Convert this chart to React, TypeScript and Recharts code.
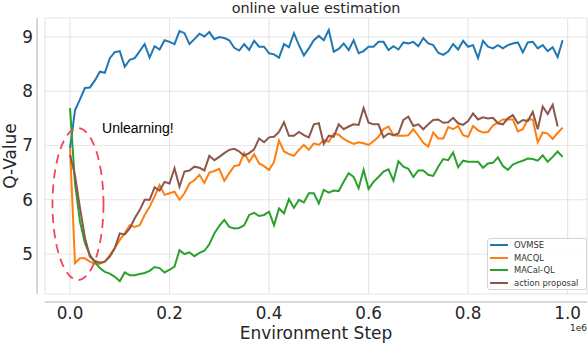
import React from 'react';
import {
  LineChart,
  Line,
  XAxis,
  YAxis,
  CartesianGrid,
  Legend,
  ReferenceLine,
  ReferenceDot,
} from 'recharts';

// one point every 10k environment steps
const xTicks = [0, 200000, 400000, 600000, 800000, 1000000];
const yTicks = [5, 6, 7, 8, 9];
const seriesNames = ['OVMSE', 'MACQL', 'MACal-QL', 'action proposal'];

const ovmse = [
  6.95, 7.65, 7.85, 8.06, 8.07, 8.2, 8.36, 8.34, 8.61, 8.72,
  8.74, 8.45, 8.58, 8.61, 8.74, 8.87, 8.62, 8.83, 8.77, 8.94,
  8.91, 8.87, 9.11, 9.07, 8.87, 8.96, 9.06, 9.01, 9.09, 8.96,
  9.0, 8.98, 8.94, 8.8, 8.75, 8.87, 8.76, 8.93, 8.82, 8.82,
  8.7, 8.68, 8.62, 8.87, 8.81, 9.07, 8.85, 8.66, 8.79, 8.94,
  9.02, 8.94, 9.13, 8.73, 8.78, 8.88, 8.76, 8.94, 8.7, 8.74,
  8.82, 8.82, 8.91, 8.91, 8.76, 8.83, 8.77, 8.9, 8.88, 8.91,
  8.83, 8.98, 8.88, 8.85, 8.71, 8.67, 8.73, 8.87, 8.77, 8.93,
  8.82, 8.85, 8.61, 8.93, 8.82, 8.79, 8.85, 8.79, 8.85, 8.88,
  8.9, 8.72, 8.9, 8.91, 8.79, 8.85, 8.74, 8.81, 8.63, 8.94,
];

const macql = [
  6.95, 4.83, 4.92, 4.92, 4.86, 4.82, 4.82, 4.86, 4.98, 5.11,
  5.26, 5.38, 5.53, 5.5, 5.53, 5.72, 5.87, 6.06, 6.27, 6.09,
  6.12, 6.15, 6.0, 6.12, 6.3, 6.36, 6.46, 6.31, 6.5, 6.53,
  6.57, 6.35, 6.49, 6.62, 6.64, 6.86, 6.7, 6.84, 6.67, 6.62,
  6.55, 6.7, 7.09, 6.89, 6.84, 6.81, 6.92, 7.01, 6.92, 7.04,
  7.01, 7.1, 7.07, 7.22, 7.2, 7.12, 7.07, 7.03, 7.06, 7.04,
  7.01, 7.08, 7.16, 7.3, 7.35, 7.19, 7.18, 7.18, 7.19, 7.3,
  7.18, 7.05, 6.98, 7.24, 7.13, 7.13, 7.34, 7.3, 7.36, 7.19,
  7.16, 7.36, 7.28, 7.24, 7.25, 7.37, 7.42, 7.48, 7.48, 7.48,
  7.26, 7.3, 7.48, 7.48, 7.06, 7.24, 7.22, 7.12, 7.23, 7.33,
];

const macalQl = [
  7.69, 6.3, 5.6, 5.2, 4.98, 4.85, 4.74, 4.67, 4.64, 4.58,
  4.5, 4.66, 4.61, 4.61, 4.63, 4.65, 4.69, 4.76, 4.74, 4.66,
  4.71, 4.77, 5.07, 5.0, 5.03, 4.96, 5.02, 5.06, 5.18, 5.38,
  5.52, 5.63, 5.5, 5.47, 5.48, 5.53, 5.72, 5.76, 5.7, 5.72,
  5.78, 5.53, 5.84, 5.75, 6.01, 5.85, 6.0, 5.95, 6.12, 6.12,
  5.93, 6.18, 6.13, 6.17, 6.16, 6.33, 6.49, 6.42, 6.21, 6.55,
  6.2, 6.33, 6.42, 6.52, 6.56, 6.35, 6.71, 6.61, 6.57, 6.42,
  6.54, 6.54, 6.46, 6.44, 6.61, 6.75, 6.73, 6.87, 6.6, 6.72,
  6.7, 6.7, 6.7, 6.59, 6.67, 6.68, 6.78, 6.62, 6.55, 6.65,
  6.69, 6.72, 6.76, 6.75, 6.72, 6.82, 6.7, 6.79, 6.89, 6.79,
];

const actionProposal = [
  6.83, 6.45, 5.85, 5.3, 4.95, 4.87, 4.84, 4.86, 4.95, 5.11,
  5.38, 5.36, 5.47, 5.66, 5.81, 6.0, 6.0, 6.23, 6.17, 6.33,
  6.3, 6.58, 6.24, 6.52, 6.54, 6.61, 6.59, 6.54, 6.81, 6.73,
  6.79, 6.86, 6.92, 6.94, 6.89, 6.81, 6.86, 6.93, 7.13, 7.06,
  7.15, 7.16, 7.25, 7.43, 7.18, 7.18, 7.25, 7.19, 7.15, 7.39,
  7.41, 7.03, 7.18, 7.16, 7.39, 7.3, 7.35, 7.39, 7.38, 7.69,
  7.42, 7.39, 7.39, 7.15, 7.22, 7.19, 7.22, 7.47, 7.53, 7.36,
  7.39, 7.3, 7.39, 7.47, 7.48, 7.42, 7.43, 7.51, 7.41, 7.38,
  7.45, 7.59, 7.48, 7.52, 7.5, 7.51, 7.41, 7.39, 7.5, 7.56,
  7.41, 7.47, 7.45, 7.62, 7.3, 7.72, 7.58, 7.75, 7.35,
];

const data = ovmse.map((v, i) => ({
  step: i * 10000,
  ovmse: v,
  macql: macql[i],
  macalql: macalQl[i],
  proposal: actionProposal[i] ?? null,
}));

const FONT = 'DejaVu Sans';
const TEXT = '#262626';
const SPINE = '#cccccc';

const X_DOMAIN = [-50300, 1039000];
const Y_DOMAIN = [4.263, 9.35];

function LegendBox({ payload }: any) {
  // keep plotting order instead of alphabetical
  const items = [...(payload || [])].sort(
    (a: any, b: any) => seriesNames.indexOf(a.value) - seriesNames.indexOf(b.value)
  );
  return (
    <div
      style={{
        width: 98,
        border: '1px solid #d4d4d4',
        borderRadius: 3,
        background: 'rgba(255,255,255,0.85)',
        fontFamily: FONT,
        fontSize: 8.4,
        color: '#333',
      }}
    >
      {items.map((p: any) => (
        <div key={p.value} style={{ display: 'flex', alignItems: 'center', height: 12.5 }}>
          <span style={{ display: 'inline-block', width: 18, height: 2, background: p.color, marginLeft: 2, marginRight: 6 }} />
          <span style={{ lineHeight: '12px' }}>{p.value}</span>
        </div>
      ))}
    </div>
  );
}

const Ellipse = ({ cx, cy }: any) => (
  <ellipse cx={cx} cy={cy} rx={25.5} ry={76} fill="none" stroke="#f5455c" strokeWidth={1.8} strokeDasharray="9 6" />
);

const Note = ({ cx, cy }: any) => (
  <text x={cx} y={cy} dy="0.35em" fontFamily="Liberation Sans, Arial" fontSize={14} fill="#000">
    Unlearning!
  </text>
);

export default function App() {
  return (
    <div style={{ position: 'absolute', left: 0, top: 0, width: 588, height: 344, background: '#fff' }}>
      <div
        style={{
          position: 'absolute',
          left: 45,
          width: 542,
          top: 0,
          textAlign: 'center',
          fontFamily: FONT,
          fontSize: 14.4,
          lineHeight: '16px',
          color: TEXT,
        }}
      >
        online value estimation
      </div>
      <LineChart width={588} height={344} data={data} margin={{ top: 18, right: 1, bottom: 0, left: 0 }}>
        <CartesianGrid stroke="#e6e6e6" strokeWidth={1.2} />
        <XAxis
          dataKey="step"
          type="number"
          domain={X_DOMAIN}
          ticks={xTicks}
          allowDataOverflow
          tickFormatter={(v: number) => (v / 1e6).toFixed(1)}
          axisLine={false}
          tickLine={false}
          tickSize={0}
          tickMargin={13}
          height={50}
          tick={{ fill: TEXT, fontSize: 16.8, fontFamily: FONT }}
          label={{ value: 'Environment Step', position: 'insideBottom', offset: 5, fill: TEXT, fontSize: 17, fontFamily: FONT }}
        />
        <YAxis
          type="number"
          domain={Y_DOMAIN}
          ticks={yTicks}
          allowDataOverflow
          axisLine={false}
          tickLine={false}
          tickSize={0}
          tickMargin={12}
          width={45}
          tick={{ fill: TEXT, fontSize: 16.8, fontFamily: FONT }}
          label={{
            value: 'Q-Value',
            angle: -90,
            position: 'insideLeft',
            offset: 10,
            fill: TEXT,
            fontSize: 17,
            fontFamily: FONT,
            style: { textAnchor: 'middle' },
          }}
        />
        {/* offset spines like seaborn's despine(offset) */}
        <ReferenceLine
          segment={[{ x: -66300, y: Y_DOMAIN[0] }, { x: -66300, y: Y_DOMAIN[1] }]}
          stroke={SPINE}
          strokeWidth={1.6}
          ifOverflow="visible"
        />
        <ReferenceLine
          segment={[{ x: X_DOMAIN[0], y: 4.115 }, { x: X_DOMAIN[1], y: 4.115 }]}
          stroke={SPINE}
          strokeWidth={1.6}
          ifOverflow="visible"
        />
        <Line name="OVMSE" dataKey="ovmse" stroke="#1f77b4" strokeWidth={2} dot={false} isAnimationActive={false} />
        <Line name="MACQL" dataKey="macql" stroke="#ff7f0e" strokeWidth={2} dot={false} isAnimationActive={false} />
        <Line name="MACal-QL" dataKey="macalql" stroke="#2ca02c" strokeWidth={2} dot={false} isAnimationActive={false} />
        <Line name="action proposal" dataKey="proposal" stroke="#8c564b" strokeWidth={2} dot={false} isAnimationActive={false} />
        <ReferenceDot x={16000} y={5.92} r={0} shape={Ellipse} />
        <ReferenceDot x={64300} y={7.32} r={0} shape={Note} />
        <Legend
          layout="vertical"
          align="center"
          verticalAlign="middle"
          content={<LegendBox />}
          wrapperStyle={{ position: 'absolute', left: 487, top: 238, width: 100, height: 52 }}
        />
      </LineChart>
      <div
        style={{
          position: 'absolute',
          right: 1,
          top: 323,
          fontFamily: FONT,
          fontSize: 9,
          lineHeight: '11px',
          color: TEXT,
        }}
      >
        1e6
      </div>
    </div>
  );
}
